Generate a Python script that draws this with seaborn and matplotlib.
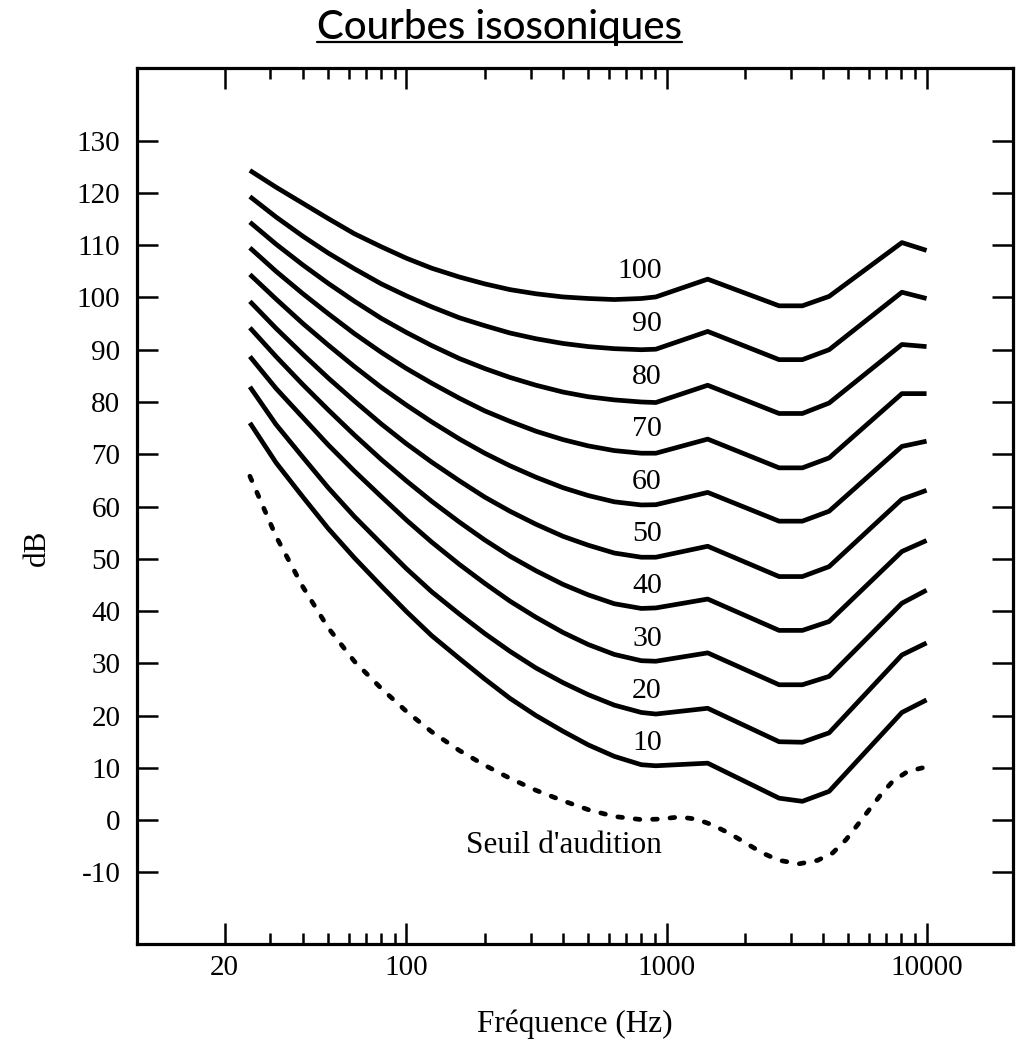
import matplotlib
matplotlib.use("Agg")
import matplotlib.pyplot as plt
import numpy as np
import pandas as pd
import seaborn as sns
from matplotlib.lines import Line2D
from matplotlib.ticker import FixedLocator, FixedFormatter, NullFormatter

# ---------------- data ----------------
freqs = [25, 31.5, 40, 50, 63, 80, 100, 125, 160, 200, 250, 315, 400, 500,
         630, 800, 910, 1440, 2710, 3330, 4220, 8040, 10000]

curve_100 = [124.3, 121.1, 118.0, 115.1, 112.2, 109.7, 107.5, 105.6, 103.9, 102.6,
             101.5, 100.7, 100.1, 99.8, 99.6, 99.8, 100.1, 103.5, 98.4, 98.4, 100.2, 110.5, 109.0]
curve_90 = [119.3, 115.4, 111.7, 108.5, 105.5, 102.6, 100.3, 98.2, 96.1, 94.6,
            93.2, 92.1, 91.2, 90.6, 90.2, 90.0, 90.1, 93.5, 88.1, 88.1, 90.0, 101.0, 99.8]
curve_80 = [114.4, 110.2, 106.2, 102.7, 99.3, 96.0, 93.3, 90.8, 88.3, 86.4,
            84.7, 83.2, 81.9, 81.0, 80.4, 80.0, 79.9, 83.2, 77.8, 77.8, 79.8, 91.0, 90.6]
curve_70 = [109.5, 105.0, 100.7, 96.9, 93.1, 89.5, 86.4, 83.6, 80.7, 78.3,
            76.3, 74.4, 72.8, 71.6, 70.7, 70.2, 70.2, 72.9, 67.4, 67.4, 69.3, 81.6, 81.6]
curve_60 = [104.4, 99.7, 95.0, 90.9, 86.8, 82.8, 79.4, 76.2, 72.9, 70.2,
            67.8, 65.6, 63.6, 62.1, 60.9, 60.3, 60.35, 62.7, 57.2, 57.2, 59.1, 71.5, 72.5]
curve_50 = [99.25, 94.1, 89.1, 84.6, 80.2, 75.8, 72.0, 68.5, 64.9, 61.8,
            59.1, 56.6, 54.3, 52.6, 51.1, 50.3, 50.3, 52.4, 46.6, 46.6, 48.5, 61.4, 63.1]
curve_40 = [94.2, 88.7, 83.3, 78.5, 73.7, 69.0, 64.9, 61.0, 57.0, 53.6,
            50.5, 47.7, 45.1, 43.1, 41.4, 40.5, 40.6, 42.3, 36.3, 36.3, 38.0, 51.4, 53.5]
curve_30 = [88.7, 82.6, 77.0, 71.8, 66.8, 61.9, 57.4, 53.2, 48.9, 45.3,
            41.9, 38.8, 35.9, 33.6, 31.7, 30.5, 30.4, 32.0, 25.9, 25.9, 27.5, 41.5, 44.0]
curve_20 = [82.9, 75.7, 69.4, 63.6, 58.1, 52.9, 48.1, 43.7, 39.4, 35.7,
            32.3, 29.1, 26.3, 24.0, 22.0, 20.6, 20.3, 21.4, 15.0, 14.9, 16.7, 31.6, 33.9]
curve_10 = [76.0, 68.4, 61.8, 55.8, 50.2, 44.8, 39.9, 35.3, 30.9, 27.0,
            23.3, 20.0, 17.0, 14.4, 12.2, 10.6, 10.4, 10.9, 4.2, 3.6, 5.5, 20.6, 23.0]

threshold_freqs = [25, 31.5, 40, 50, 63, 80, 100, 125, 160, 200, 250, 315, 400, 500,
                   630, 800, 940, 1120, 1300, 1500, 1740, 2020, 2340, 2710, 3240,
                   3810, 4350, 4900, 5430, 6020, 6680, 7400, 8450, 10000]
threshold_db = [65.8, 54.3, 44.6, 36.8, 30.4, 25.2, 20.8, 16.9, 13.3, 10.5, 8.0, 5.7,
                3.7, 2.0, 0.7, 0.1, 0.2, 0.6, 0.2, -0.9, -2.5, -4.4, -6.3, -7.7, -8.35,
                -7.7, -6.3, -3.75, -0.9, 2.0, 4.9, 7.4, 9.3, 10.2]

levels = [10, 20, 30, 40, 50, 60, 70, 80, 90, 100]
curves = [curve_10, curve_20, curve_30, curve_40, curve_50,
          curve_60, curve_70, curve_80, curve_90, curve_100]
label_texts = ["10", "20", "30", "40", "50", "60", "70", "80", "90", "100"]
label_db = [13.4, 23.4, 33.4, 43.4, 53.4, 63.4, 73.5, 83.5, 93.5, 103.7]
label_freq = 960
threshold_label = "Seuil d'audition"
threshold_label_db = -6.3

x_major = [20, 100, 1000, 10000]
x_major_labels = ["20", "100", "1000", "10000"]
x_minor = [30, 40, 50, 60, 70, 80, 90, 200, 300, 400, 500, 600, 700, 800, 900,
           2000, 3000, 4000, 5000, 6000, 7000, 8000, 9000]
y_ticks = [-10, 0, 10, 20, 30, 40, 50, 60, 70, 80, 90, 100, 110, 120, 130]

title_text = "Courbes isosoniques"
x_label = "Fréquence (Hz)"
y_label = "dB"

# ---------------- figure ----------------
sns.set_theme(style="ticks")
plt.rcParams["font.family"] = ["Liberation Serif", "DejaVu Serif"]
for k in ["text.color", "axes.labelcolor", "xtick.color", "ytick.color", "axes.edgecolor"]:
    plt.rcParams[k] = "black"

W, H = 1020, 1045
fig = plt.figure(figsize=(W / 100, H / 100), dpi=100)
ax_l, ax_r, ax_t, ax_b = 137, 1013, 68, 944
ax = fig.add_axes([ax_l / W, 1 - ax_b / H, (ax_r - ax_l) / W, (ax_b - ax_t) / H])

rows = []
for lvl, vals in zip(levels, curves):
    for f, v in zip(freqs, vals):
        rows.append({"freq": f, "dB": v, "level": lvl})
df = pd.DataFrame(rows)

sns.lineplot(data=df, x="freq", y="dB", units="level", estimator=None, sort=False,
             color="black", lw=3.4, ax=ax, legend=False,
             solid_joinstyle="round", solid_capstyle="butt")

thr = pd.DataFrame({"freq": threshold_freqs, "dB": threshold_db})
sns.lineplot(data=thr, x="freq", y="dB", estimator=None, sort=False, color="black",
             lw=3.4, ax=ax, legend=False, linestyle=(0, (1.0, 2.7)),
             dash_capstyle="round")

ax.set_xscale("log")
ax.set_xlim(9.2, 21500)
ax.set_ylim(-23.7, 143.9)

ax.xaxis.set_major_locator(FixedLocator(x_major))
ax.xaxis.set_major_formatter(FixedFormatter(x_major_labels))
ax.xaxis.set_minor_locator(FixedLocator(x_minor))
ax.xaxis.set_minor_formatter(NullFormatter())
ax.set_yticks(y_ticks)
ax.set_yticklabels([str(v) for v in y_ticks])

ax.tick_params(axis="both", which="both", direction="in", top=True, right=True,
               color="black")
ax.tick_params(which="major", length=15, width=1.8)
ax.tick_params(which="minor", length=8, width=1.8)
ax.tick_params(axis="x", which="major", pad=8, labelsize=21)
ax.tick_params(axis="y", which="major", pad=12, labelsize=21)
for s in ax.spines.values():
    s.set_visible(True)
    s.set_linewidth(2.3)
    s.set_color("black")

for txt, yv in zip(label_texts, label_db):
    ax.text(label_freq, yv, txt, ha="right", va="baseline", fontsize=21.5)
ax.text(label_freq, threshold_label_db, threshold_label, ha="right",
        va="baseline", fontsize=22.5)

ax.set_xlabel(x_label, fontsize=22.5)
ax.xaxis.set_label_coords(0.5, -0.0745)
ax.set_ylabel(y_label, fontsize=22.5)
ax.yaxis.set_label_coords(-0.0976, 0.4526)

t = fig.text(499.5 / W, 1 - 39.3 / H, title_text, ha="center", va="baseline",
             fontsize=29, fontfamily=["Lato", "DejaVu Sans"], fontweight="medium")
fig.canvas.draw()
bb = t.get_window_extent()
y_ul = 1 - 41.8 / H
fig.add_artist(Line2D([bb.x0 / W, bb.x1 / W], [y_ul, y_ul], transform=fig.transFigure,
                      color="black", lw=1.6))

fig.savefig("out.png", dpi=100)
